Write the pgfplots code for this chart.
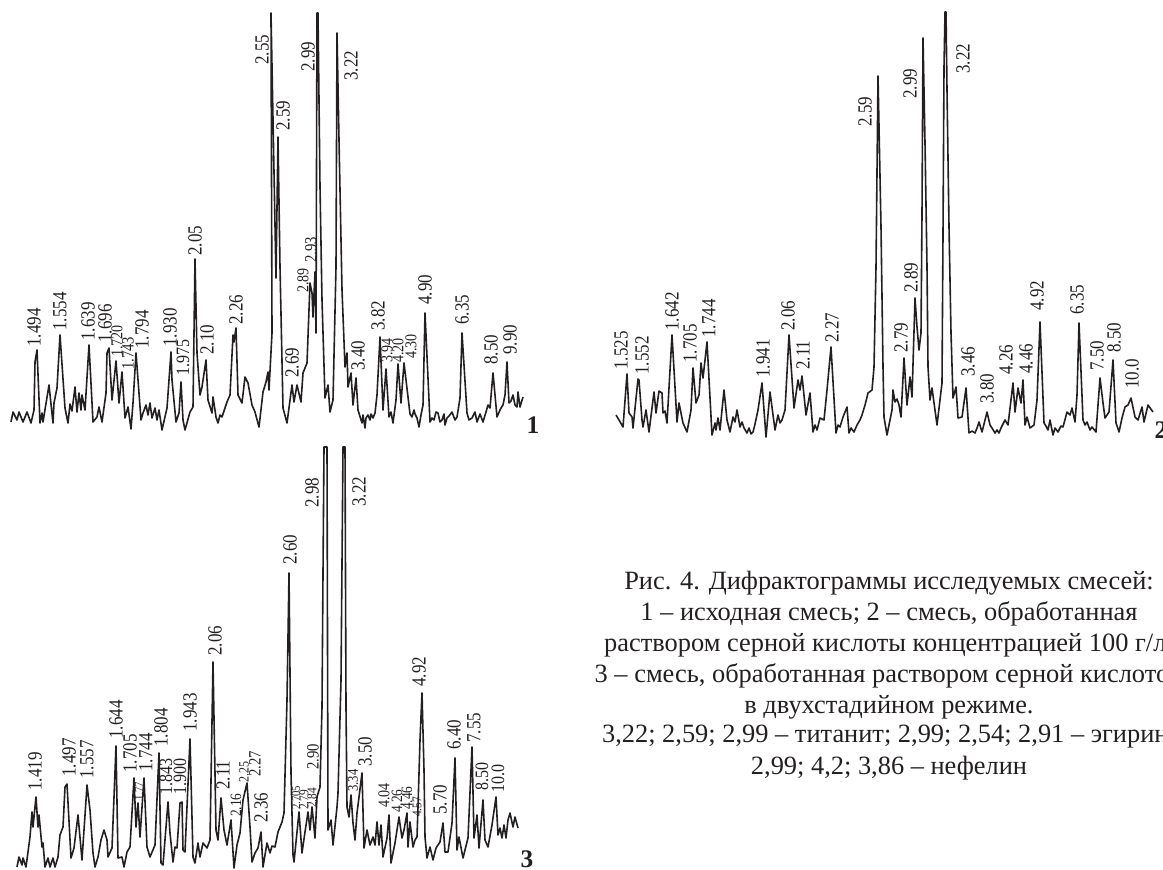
\documentclass[border=0pt]{standalone}
\usepackage{fontspec}
\setmainfont{Liberation Serif}
\usepackage{pgfplots}
\usepackage{pgfplotstable}
\pgfplotsset{compat=1.18}
\definecolor{ink}{HTML}{231F20}
\pgfplotstableread{
x y
11 422
13 412
17 420
19 412
23 422
27 412
31 423
34 410
35 362
37 350
40 423
42 413
43 422
49 385
53 423
54 403
57 388
60 335
65 408
68 423
70 404
72 411
75 387
77 412
79 393
81 410
82 395
85 410
89 345
93 422
97 417
99 407
102 422
106 393
107 353
109 348
112 400
116 361
119 403
122 372
125 418
128 407
131 429
133 403
136 353
141 420
143 413
146 405
148 415
150 403
152 418
155 408
157 420
159 410
162 430
167 408
171 352
172 380
176 422
179 413
181 382
183 420
185 430
190 412
193 407
195 259
197 353
200 395
202 387
206 360
208 400
212 413
213 397
216 417
218 423
220 415
222 417
225 408
227 402
230 395
233 335
234 342
236 328
238 395
242 403
245 377
248 383
252 405
255 412
259 427
263 392
266 382
268 372
269 390
272 333
271 13
276 278
278 137
280 267
283 408
287 423
292 385
294 402
297 385
301 402
303 373
307 363
310 283
312 293
313 317
315 272
316 333
317 13
318 13
320 187
322 300
325 398
328 385
330 412
333 400
336 267
337 33
339 140
342 290
345 367
347 353
348 387
351 373
353 405
356 378
358 410
362 423
363 415
365 428
366 418
368 415
370 420
371 414
373 418
375 413
377 395
380 337
383 410
386 369
389 417
391 412
393 423
396 400
398 364
401 403
404 363
408 397
410 414
412 417
414 410
415 414
417 418
419 427
421 415
423 405
425 313
430 422
432 418
434 420
436 412
438 413
440 422
442 420
444 414
445 425
447 418
449 416
452 412
455 420
457 417
460 398
462 333
467 413
469 420
472 418
475 412
477 422
480 414
483 422
486 412
488 405
490 408
493 373
497 417
500 410
501 408
503 405
505 395
507 362
509 403
511 401
513 395
515 405
517 407
518 392
520 407
523 397
}\chartA
\pgfplotstableread{
x y
616 415
619 420
623 427
627 374
629 413
632 417
633 428
638 379
639 380
642 420
643 427
646 410
649 432
654 392
656 413
659 391
662 393
663 413
665 411
667 423
672 335
677 422
679 403
683 423
687 432
691 410
693 368
696 403
699 395
701 363
703 378
707 342
712 435
715 423
716 430
718 418
720 430
724 390
727 420
730 432
733 417
735 422
737 410
740 427
742 422
744 428
747 433
749 428
751 434
753 432
755 424
758 410
762 383
766 437
770 392
775 430
778 415
780 423
782 420
785 410
789 335
794 408
798 380
800 390
802 376
806 415
810 393
813 432
815 425
817 430
820 418
824 420
827 390
831 347
836 433
838 425
840 427
843 417
847 407
849 433
851 428
854 432
857 425
860 420
862 415
865 405
868 393
872 390
874 367
876 267
878 76
881 227
883 367
884 417
887 435
892 410
893 390
895 402
897 399
899 405
901 417
904 358
906 390
907 405
910 377
912 397
915 298
917 327
919 350
921 333
922 213
923 38
925 143
927 267
928 367
930 400
932 388
937 425
942 383
943 233
944 67
945 12
946 12
947 90
949 227
951 333
953 398
956 387
958 418
962 417
966 388
969 433
972 431
975 433
977 428
979 422
982 432
985 420
987 412
990 425
992 428
995 433
997 430
999 433
1001 428
1005 420
1008 425
1013 383
1015 412
1018 388
1021 403
1023 380
1025 425
1027 417
1030 428
1034 425
1037 400
1040 322
1044 423
1046 426
1048 430
1050 420
1053 435
1055 428
1058 432
1061 426
1063 427
1067 412
1070 415
1072 408
1075 422
1077 395
1079 323
1083 420
1085 425
1087 422
1090 430
1092 427
1096 432
1100 378
1103 403
1105 418
1109 412
1113 360
1116 423
1119 432
1122 418
1125 407
1128 405
1131 398
1135 417
1138 420
1142 407
1144 422
1148 405
1153 412
}\chartB
\pgfplotstableread{
x y
17 867
19 857
22 865
23 858
26 867
30 837
32 812
33 827
36 797
38 827
39 815
42 847
43 843
45 867
48 858
50 867
53 858
55 867
58 857
60 835
63 827
65 787
67 784
71 858
74 848
78 815
82 860
87 785
90 810
93 853
95 867
98 857
101 840
104 830
107 840
108 857
112 848
116 746
118 858
122 857
124 867
127 852
130 847
134 778
136 827
138 803
140 837
144 778
147 847
150 857
155 845
159 753
161 863
163 865
168 802
170 833
173 862
175 847
177 848
180 803
182 802
183 850
185 852
190 739
193 857
195 863
198 843
200 857
203 843
207 848
210 840
213 662
216 830
218 840
221 798
224 830
227 845
231 820
234 868
237 845
240 833
243 800
247 783
250 827
252 862
255 853
258 848
261 832
263 867
267 843
270 853
272 846
275 847
278 832
282 822
284 813
287 700
289 573
291 773
293 855
294 862
299 812
302 853
305 832
308 812
310 830
312 807
315 838
317 797
320 787
322 707
323 573
324 447
327 447
328 830
331 820
333 845
337 807
338 793
341 680
343 447
345 447
346 707
347 807
349 817
351 795
353 823
355 840
357 813
362 773
364 848
367 830
370 845
373 837
375 845
377 822
379 845
381 825
383 857
387 838
389 815
391 863
395 843
399 817
402 838
404 830
407 813
408 847
410 822
413 847
415 840
417 837
418 807
420 740
422 693
424 770
425 837
427 858
430 847
433 860
436 848
440 842
443 823
445 852
448 852
452 823
455 758
457 850
459 837
463 858
468 838
472 747
474 838
477 815
479 848
483 800
485 840
488 847
492 825
496 797
498 835
500 828
502 838
504 825
506 838
508 820
510 813
513 827
515 817
518 828
}\chartC
\newcommand{\lab}[4][12.75]{\node[rotate=90,yscale=1.18,anchor=west,inner sep=0pt,text=ink,font=\fontsize{#1}{#1}\selectfont] at (axis cs:#2,#3) {#4};}
\newcommand{\capline}[2]{\node[anchor=center,inner sep=0pt,text=ink,font=\fontsize{19.8}{22}\selectfont] at (axis cs:889,#1) {#2};}
\begin{document}
\begin{tikzpicture}
\path[use as bounding box] (0,0) rectangle (872.25pt,652.5pt);
\begin{axis}[at={(0,0)},anchor=south west,width=872.25pt,height=652.5pt,scale only axis,
  hide axis,clip=false,xmin=0,xmax=1163,ymin=0,ymax=870,y dir=reverse]
\addplot[ink,line width=1.2pt,line join=round] table[x=x,y=y] {\chartA};
\addplot[ink,line width=1.2pt,line join=round] table[x=x,y=y] {\chartB};
\addplot[ink,line width=1.2pt,line join=round] table[x=x,y=y] {\chartC};
% chart 1
\lab{34}{347}{1.494}
\lab{60}{331}{1.554}
\lab{88}{341}{1.639}
\lab{105}{343}{1.696}
\lab[10.5]{117}{357}{1.720}
\lab[11]{128}{370}{1.743}
\lab{142}{349}{1.794}
\lab{170}{347}{1.930}
\lab[12]{183}{376}{1.975}
\lab{195}{256}{2.05}
\lab{207}{355}{2.10}
\lab{236}{325}{2.26}
\lab{262}{65}{2.55}
\lab{283}{131}{2.59}
\lab{308}{72}{2.99}
\lab{351}{81}{3.22}
\lab{292}{378}{2.69}
\lab[10.5]{303}{293}{2.89}
\lab[11]{311}{263}{2.93}
\lab{358}{371}{3.40}
\lab{378}{331}{3.82}
\lab[10.5]{387}{363}{3.94}
\lab[10.5]{398}{363}{4.20}
\lab[10.5]{411}{359}{4.30}
\lab{425}{305}{4.90}
\lab{462}{325}{6.35}
\lab{491}{365}{8.50}
\lab{510}{355}{9.90}
% chart 2
\lab{621}{370}{1.525}
\lab{642}{375}{1.552}
\lab{672}{331}{1.642}
\lab{690}{363}{1.705}
\lab{709}{338}{1.744}
\lab{763}{378}{1.941}
\lab{788}{331}{2.06}
\lab{803}{370}{2.11}
\lab{832}{343}{2.27}
\lab{865}{127}{2.59}
\lab{901}{353}{2.79}
\lab{911}{293}{2.89}
\lab{910}{99}{2.99}
\lab{963}{74}{3.22}
\lab{968}{377}{3.46}
\lab{987}{404}{3.80}
\lab{1006}{375}{4.26}
\lab{1026}{374}{4.46}
\lab{1037}{311}{4.92}
\lab{1077}{315}{6.35}
\lab{1097}{371}{7.50}
\lab{1114}{353}{8.50}
\lab{1132}{389}{10.0}
% chart 3
\lab{35}{791}{1.419}
\lab{69}{777}{1.497}
\lab{87}{779}{1.557}
\lab{116}{739}{1.644}
\lab{130}{773}{1.705}
\lab[8]{139}{801}{1.77}
\lab{146}{772}{1.744}
\lab{161}{747}{1.804}
\lab[12]{166}{795}{1.843}
\lab[12]{180}{795}{1.900}
\lab{190}{732}{1.943}
\lab{215}{656}{2.06}
\lab{223}{790}{2.11}
\lab[10]{236}{817}{2.16}
\lab[9]{244}{783}{2.25}
\lab[11]{255}{777}{2.27}
\lab{261}{823}{2.36}
\lab{290}{565}{2.60}
\lab{312}{508}{2.98}
\lab{359}{507}{3.22}
\lab[11]{313}{770}{2.90}
\lab[8]{296}{810}{2.705}
\lab[8.5]{304}{810}{2.79}
\lab[8.5]{312}{808}{2.84}
\lab[9.5]{353}{792}{3.34}
\lab{365}{767}{3.50}
\lab[10.5]{384}{808}{4.04}
\lab[10]{397}{813}{4.26}
\lab[10]{407}{810}{4.46}
\lab[8.5]{417}{817}{4.57}
\lab{419}{687}{4.92}
\lab{440}{815}{5.70}
\lab{454}{750}{6.40}
\lab{474}{743}{7.55}
\lab[12]{482}{791}{8.50}
\lab[12]{498}{793}{10.0}
% panel numbers
\node[inner sep=0pt,text=ink,font=\fontsize{19}{19}\selectfont\bfseries] at (axis cs:533,425) {1};
\node[inner sep=0pt,text=ink,font=\fontsize{19}{19}\selectfont\bfseries] at (axis cs:1161,430) {2};
\node[inner sep=0pt,text=ink,font=\fontsize{19}{19}\selectfont\bfseries] at (axis cs:527,859) {3};
% caption
\capline{583}{Рис. 4. Дифрактограммы исследуемых смесей:}
\capline{614}{1 – исходная смесь; 2 – смесь, обработанная}
\capline{645}{раствором серной кислоты концентрацией 100 г/л;}
\capline{676}{3 – смесь, обработанная раствором серной кислотой}
\capline{707}{в двухстадийном режиме.}
\capline{737}{3,22; 2,59; 2,99 – титанит; 2,99; 2,54; 2,91 – эгирин;}
\capline{768}{2,99; 4,2; 3,86 – нефелин}
\end{axis}
\end{tikzpicture}
\end{document}
